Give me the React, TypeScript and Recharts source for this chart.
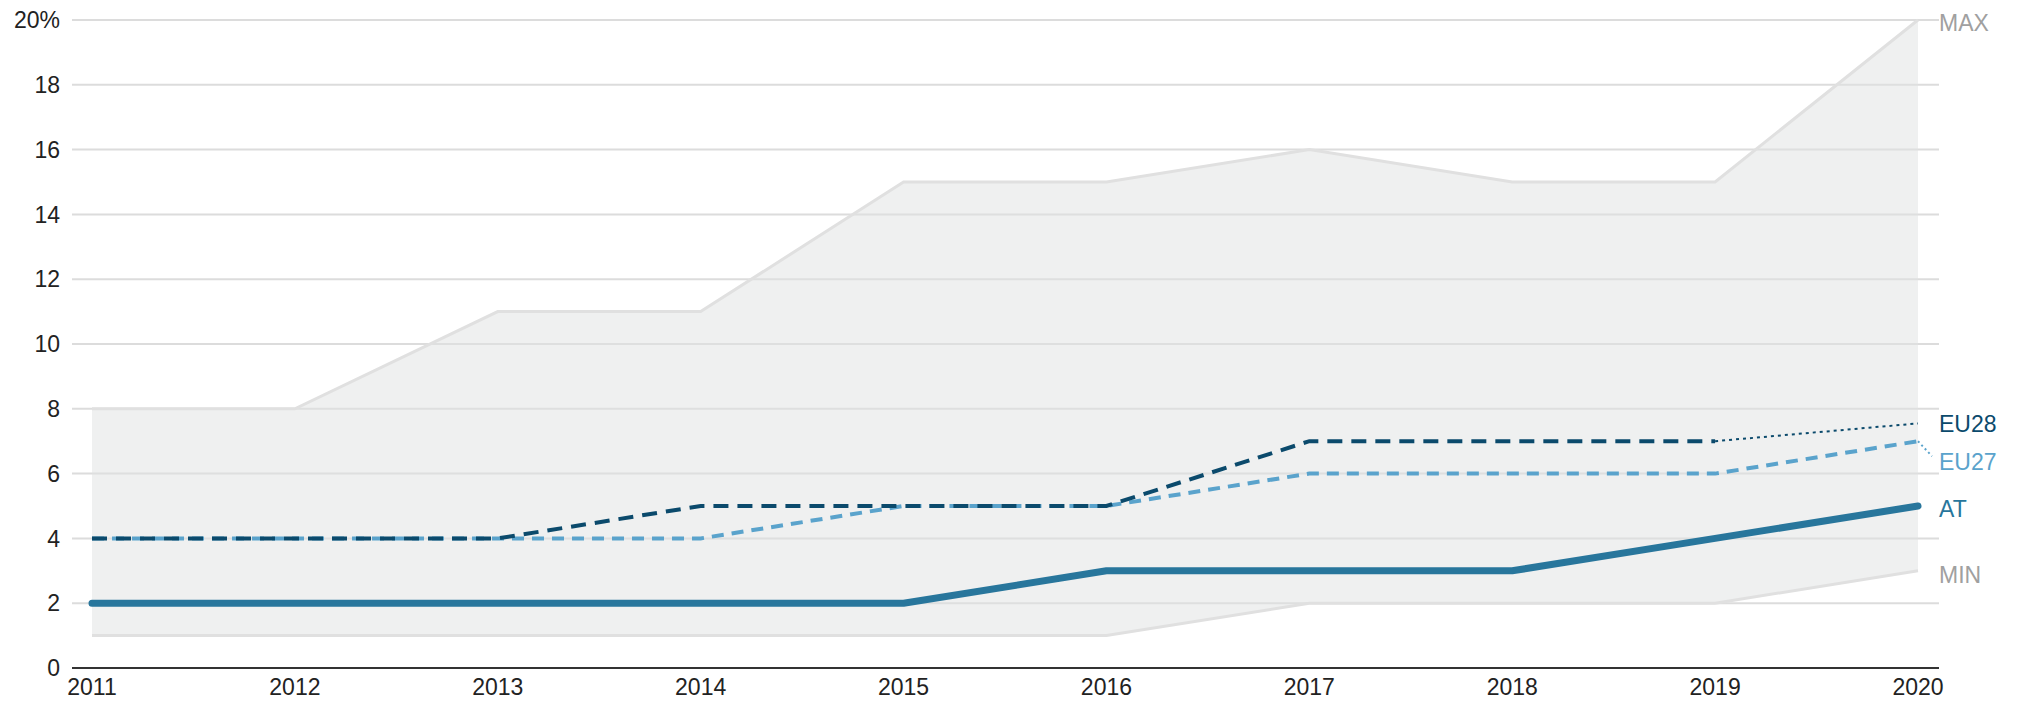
import React from 'react';
import { ComposedChart, Area, Line, XAxis, YAxis, CartesianGrid } from 'recharts';

const years = ['2011', '2012', '2013', '2014', '2015', '2016', '2017', '2018', '2019', '2020'];
const maxValues = [8, 8, 11, 11, 15, 15, 16, 15, 15, 20];
const minValues = [1, 1, 1, 1, 1, 1, 2, 2, 2, 3];
const atValues = [2, 2, 2, 2, 2, 3, 3, 3, 4, 5];
const eu28Values: (number | null)[] = [4, 4, 4, 5, 5, 5, 7, 7, 7, null];
const eu28EstValues: (number | null)[] = [null, null, null, null, null, null, null, null, 7, 7.55];
const eu27Values = [4, 4, 4, 4, 5, 5, 6, 6, 6, 7];
const yTicks = [0, 2, 4, 6, 8, 10, 12, 14, 16, 18, 20];

const data = years.map((y, i) => ({
  year: y,
  range: [minValues[i], maxValues[i]],
  max: maxValues[i],
  min: minValues[i],
  at: atValues[i],
  eu28: eu28Values[i],
  eu28est: eu28EstValues[i],
  eu27: eu27Values[i],
}));

const FONT = '"Liberation Sans", Arial, Helvetica, sans-serif';
const LAST = years.length - 1;

const makeLabel = (text: string, color: string, dy: number, leader = false) => (props: any) => {
  const { x, y, index } = props;
  if (index !== LAST || x == null || y == null) return null;
  return (
    <g>
      {leader && (
        <line x1={x} y1={y} x2={x + 14} y2={y + 15} stroke={color} strokeWidth={2} strokeDasharray="2 3" />
      )}
      <text x={x + 21} y={y + dy} fill={color} fontSize={23} fontFamily={FONT} dominantBaseline="central">
        {text}
      </text>
    </g>
  );
};

export default function App() {
  return (
    <div style={{ position: 'absolute', left: 0, top: 0, width: 2021, height: 706, background: '#fff' }}>
      <ComposedChart
        width={2021}
        height={706}
        data={data}
        margin={{ top: 20, right: 82, bottom: 8, left: 0 }}
      >
        <CartesianGrid vertical={false} stroke="#dcdcdc" strokeWidth={2} />
        <XAxis
          dataKey="year"
          padding={{ left: 20, right: 21 }}
          axisLine={{ stroke: '#333', strokeWidth: 2 }}
          tickLine={false}
          tick={{ fill: '#222', fontSize: 23, fontFamily: FONT }}
          tickMargin={5}
          height={30}
          interval={0}
        />
        <YAxis
          domain={[0, 20]}
          ticks={yTicks}
          width={72}
          axisLine={false}
          tickLine={false}
          tickMargin={6}
          tick={{ fill: '#222', fontSize: 23, fontFamily: FONT }}
          tickFormatter={(v: number) => (v === 20 ? '20%' : String(v))}
        />
        <Area
          dataKey="range"
          stroke="none"
          fill="#dfe1e1"
          fillOpacity={0.5}
          isAnimationActive={false}
        />
        <Line
          dataKey="max"
          stroke="#e0e0e0"
          strokeWidth={3}
          dot={false}
          isAnimationActive={false}
          label={makeLabel('MAX', '#a0a0a0', 3)}
        />
        <Line
          dataKey="min"
          stroke="#e0e0e0"
          strokeWidth={3}
          dot={false}
          isAnimationActive={false}
          label={makeLabel('MIN', '#a0a0a0', 4)}
        />
        <Line
          dataKey="eu27"
          stroke="#5aa3cc"
          strokeWidth={4}
          strokeDasharray="12 8"
          dot={false}
          isAnimationActive={false}
          label={makeLabel('EU27', '#5aa3cc', 21, true)}
        />
        <Line
          dataKey="eu28"
          stroke="#0b4a6c"
          strokeWidth={4}
          strokeDasharray="15 9"
          dot={false}
          isAnimationActive={false}
        />
        <Line
          dataKey="eu28est"
          stroke="#0b4a6c"
          strokeWidth={2}
          strokeDasharray="3 4"
          dot={false}
          isAnimationActive={false}
          label={makeLabel('EU28', '#0b4a6c', 1)}
        />
        <Line
          dataKey="at"
          stroke="#28769c"
          strokeWidth={7}
          strokeLinecap="round"
          strokeLinejoin="round"
          dot={false}
          isAnimationActive={false}
          label={makeLabel('AT', '#28769c', 3)}
        />
      </ComposedChart>
    </div>
  );
}
